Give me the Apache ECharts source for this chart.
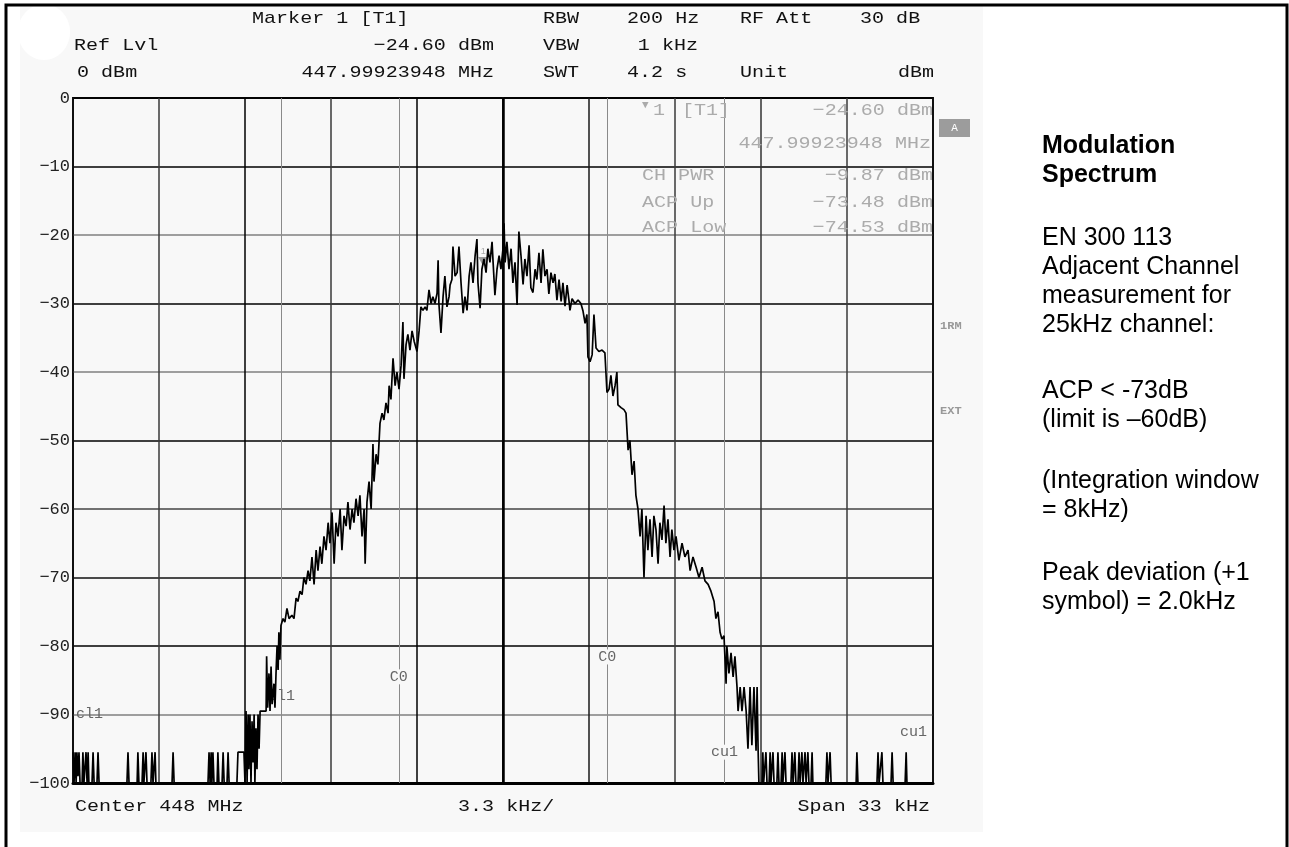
<!DOCTYPE html>
<html><head><meta charset="utf-8">
<script src="https://cdn.jsdelivr.net/npm/echarts@6/dist/echarts.min.js"></script>
<style>html,body{margin:0;padding:0;background:#fff}#c{width:1289px;height:847px}</style>
</head><body><div id="c"></div>
<script>
// ---- data (frequency offset from 448 MHz centre, kHz; level dBm) ----
const freqKHz = [
-16.50,-16.46,-16.42,-16.38,-16.35,-16.31,-16.27,-16.23,-16.15,-16.12,-16.08,-16.00,-15.96,-15.92,-15.89,-15.77,-15.73,-15.69,-15.58,-15.54,-15.50,
-14.43,-14.39,-14.35,-14.04,-14.01,-13.97,-13.85,-13.81,-13.78,-13.70,-13.66,-13.51,-13.47,-13.43,-13.35,-13.32,-12.70,-12.66,-12.62,
-11.32,-11.28,-11.24,-11.20,-11.17,-11.13,-11.09,-10.97,-10.94,-10.90,-10.78,-10.74,-10.70,-10.59,-10.55,-10.51,-10.21,-10.17,-9.94,-9.90,
-9.86,-9.82,-9.78,-9.75,-9.71,-9.67,-9.63,-9.59,-9.55,-9.52,-9.48,-9.44,-9.40,-9.36,-9.32,
-9.09,-9.07,-9.03,-8.98,-8.94,-8.90,-8.86,-8.79,-8.75,-8.71,-8.67,-8.63,-8.60,-8.56,-8.52,
-8.44,-8.37,-8.29,-8.21,-8.10,-8.02,-7.94,-7.87,-7.79,-7.71,
-7.64,-7.56,-7.48,-7.41,-7.33,-7.25,-7.17,-7.10,-7.02,-6.95,
-6.87,-6.79,-6.71,-6.64,-6.56,-6.48,-6.41,-6.33,-6.25,-6.18,
-6.10,-6.02,-5.95,-5.87,-5.79,-5.72,-5.64,-5.56,-5.49,-5.41,
-5.33,-5.29,-5.22,-5.14,-5.06,-4.99,-4.95,-4.87,-4.80,-4.72,
-4.64,-4.57,-4.49,-4.41,-4.37,-4.30,-4.22,-4.14,-4.07,-3.99,
-3.91,-3.84,-3.80,-3.72,-3.65,-3.57,-3.49,-3.41,-3.30,-3.22,
-3.15,-3.07,-2.99,-2.92,-2.84,-2.76,-2.69,-2.61,-2.53,-2.49,
-2.46,-2.38,-2.30,-2.23,-2.15,-2.07,-2.03,-1.96,-1.92,-1.84,
-1.76,-1.69,-1.61,-1.53,-1.46,-1.38,-1.30,-1.23,-1.15,-1.07,
-1.00,-0.96,-0.88,-0.81,-0.73,-0.65,-0.58,-0.50,-0.42,-0.38,
-0.31,-0.23,-0.15,-0.08,
0.00,0.04,0.08,0.15,0.23,0.31,0.38,0.46,0.54,0.61,
0.69,0.77,0.84,0.92,1.00,1.07,1.15,1.23,1.30,1.38,
1.46,1.53,1.61,1.69,1.76,1.84,1.92,1.99,2.07,2.15,
2.23,2.30,2.38,2.46,2.53,2.57,2.65,2.76,2.88,2.99,
3.07,3.15,3.22,3.26,3.34,3.42,3.49,3.57,3.68,3.80,
3.91,3.99,4.07,4.14,4.22,4.30,4.37,4.41,4.53,4.64,
4.72,4.80,4.87,4.95,5.03,5.10,5.18,5.26,5.33,5.41,
5.49,5.56,5.64,5.72,5.79,5.87,5.95,6.02,6.10,6.18,
6.25,6.33,6.41,6.48,6.56,6.64,6.75,6.87,6.98,7.10,
7.18,7.29,7.41,7.52,7.64,7.75,7.87,7.98,8.10,8.17,
8.25,8.33,8.40,8.48,8.56,8.59,8.67,8.75,8.83,8.90,
8.98,9.02,9.10,9.17,9.25,9.33,9.40,9.48,9.55,9.63,
9.71,9.75,9.79,9.82,
9.94,9.97,10.00,10.07,10.09,10.13,10.21,10.25,10.28,10.34,
10.36,10.40,10.51,10.55,10.59,10.67,10.71,10.74,10.80,10.82,
10.86,11.05,11.09,11.13,11.17,11.20,11.24,11.32,11.36,11.40,
11.45,11.47,11.51,11.57,11.59,11.63,11.68,11.70,11.74,11.82,
11.86,11.89,
12.39,12.43,12.47,12.51,12.55,12.59,13.55,13.58,13.62,14.35,14.39,14.43,14.50,14.54,14.58,14.89,14.93,14.97,15.43,15.47,15.50,16.50
];
const levelDbm = [
-95.5,-100,-95.5,-100,-95.5,-99,-95.5,-100,-100,-95.5,-100,-95.5,-100,-95.5,-100,-100,-95.5,-100,-100,-95.5,-100,
-100,-95.5,-100,-100,-95.5,-100,-100,-95.5,-100,-95.5,-100,-100,-95.5,-100,-95.5,-100,-100,-95.5,-100,
-100,-95.5,-100,-95.5,-100,-95.5,-100,-100,-95.5,-100,-100,-95.5,-100,-100,-95.5,-100,-100,-95.5,-95.5,-100,
-89.5,-100,-90,-98,-90,-100,-91,-97,-90,-100,-92,-98,-90,-95,-89.5,
-89.5,-81.5,-89,-84,-89.5,-83,-88.5,-85.5,-89,-84,-80,-83.5,-78,-82,-77,
-76,-76.5,-74.5,-76,-75.5,-76,-73,-73.5,-72,-72.5,
-70,-71,-69,-70.5,-67,-71,-66,-69,-65.5,-68,
-64,-66,-62,-65,-60.5,-68,-62,-64,-60,-66,
-61,-62.5,-59,-63,-60,-62,-58.5,-61,-58,-64,
-60,-68,-59,-56,-60,-50.5,-56,-52,-53.5,-47.5,
-46,-47,-44.5,-46,-42,-44,-38,-42,-40,-42.5,
-39,-32.7,-41,-36,-34.5,-36.8,-34,-35.5,-37,-34,
-30.5,-31,-30.5,-31,-28,-30,-29,-30,-28.5,-23.7,
-30,-34.3,-29,-26,-30.5,-29,-27.3,-26.5,-21.7,-26,
-25.5,-21.7,-27,-31.4,-29,-31,-26,-24,-27,-23,
-20.6,-27,-30.7,-25,-23.5,-25.5,-22,-24,-21,-24,
-28.8,-25,-23,-25,
-22,-18.3,-24,-21,-25,-22,-27,-24,-30.2,-19.5,
-23,-27.2,-23.5,-26,-21.5,-27.7,-28.4,-25,-26.5,-22.6,
-27,-22.1,-26,-25,-28.6,-25.5,-27,-25.7,-29.5,-26.5,
-29.7,-27,-30.4,-27.3,-29.5,-31,-29.3,-30,-29.5,-30,
-31.1,-32.9,-31.6,-37.8,-38.5,-37.5,-31.6,-36.5,-37,-36.8,
-37.2,-43,-42.5,-40.5,-43.5,-42,-40,-44.8,-45.2,-45.5,
-46,-51.4,-50,-55,-53,-58,-60,-64,-60,-70,
-61,-66,-61.5,-67,-61,-63,-68,-62,-64.5,-59.5,
-65,-61.5,-67,-63,-66,-64,-67.5,-65,-67,-66,
-69,-67,-68.5,-70,-68.5,-70.5,-71,-72,-73.5,-76,
-75,-78,-79,-78.5,-85.5,-80,-84,-81,-84.5,-81.5,
-86,-89.5,-86,-89.5,-86,-89.5,-95,-86,-94.5,-86,
-95.3,-86,-95.3,-100,
-100,-95.5,-100,-100,-95.5,-100,-100,-95.5,-100,-100,
-95.5,-100,-100,-95.5,-100,-100,-95.5,-100,-100,-95.5,
-100,-100,-95.5,-100,-100,-95.5,-100,-100,-95.5,-100,
-100,-95.5,-100,-100,-95.5,-100,-100,-95.5,-100,-100,
-95.5,-100,
-100,-95.5,-100,-100,-95.5,-100,-100,-95.5,-100,-100,-95.5,-100,-100,-95.5,-100,-100,-95.5,-100,-100,-95.5,-100,-100
];
const spanKHz = [-16.5, 16.5];
const divKHz = 3.3;
const levelRange = [-100, 0];
const markerFreqKHz = -0.7605;   // 447.99923948 MHz
const markerLevel = -24.60;
const channelNames = ['cl1', 'C0', 'C0', 'cu1'];
const channelFreqKHz = [-8.5, -4.0, 4.0, 8.5];
const channelLabelLevel = [-87.3, -84.5, -81.6, -95.5];
const limitNames = ['cl1', 'cu1'];
const limitLabelLevel = [-90, -92.6];

// ---- styling helpers ----
const MONO = "'Liberation Mono','DejaVu Sans Mono',monospace";
const SANS = "'Liberation Sans',Arial,sans-serif";
function txt(s, x, y, o) {
  o = o || {};
  return {type:'text', x:x, y:y, scaleX:(o.sx===undefined?1.18:o.sx), z:100,
    style:{text:s, fill:o.fill||'#111', font:(o.weight||'normal')+' '+(o.size||17)+'px '+(o.family||MONO),
      textAlign:o.align||'left', textVerticalAlign:'middle', align:o.align||'left', verticalAlign:'middle'}};
}
const GRAY = '#ababab';
const elements = [
  {type:'rect', z:-100, shape:{x:20,y:6,width:963,height:826}, style:{fill:'#f8f8f8'}},
  {type:'ellipse', z:-99, shape:{cx:44,cy:32,rx:26,ry:28}, style:{fill:'#ffffff'}},
  {type:'polyline', z:100, shape:{points:[[6,847],[6,5],[1287,5],[1287,847]]}, style:{stroke:'#000',lineWidth:3,fill:null}},
  // header
  txt('Marker 1 [T1]',252,18), txt('RBW',543,18), txt('200 Hz',627,18), txt('RF Att',740,18), txt('30 dB',860,18),
  txt('Ref Lvl',74,45), txt('\u221224.60 dBm',494,45,{align:'right'}), txt('VBW',543,45), txt('1 kHz',698,45,{align:'right'}),
  txt('0 dBm',77,72), txt('447.99923948 MHz',494,72,{align:'right'}), txt('SWT',543,72), txt('4.2 s',627,72), txt('Unit',740,72), txt('dBm',934,72,{align:'right'}),
  // footer
  txt('Center 448 MHz',75,806), txt('3.3 kHz/',458,806), txt('Span 33 kHz',930,806,{align:'right'}),
  // marker info overlay
  txt('\u25BC',642,105,{fill:GRAY,size:11,sx:1}), txt('1',653,110,{fill:GRAY}), txt('[T1]',682,110,{fill:GRAY}),
  txt('\u221224.60 dBm',933,110,{fill:GRAY,align:'right'}),
  txt('447.99923948 MHz',931,143,{fill:GRAY,align:'right'}),
  txt('CH PWR',642,175,{fill:GRAY}), txt('\u22129.87 dBm',933,175,{fill:GRAY,align:'right'}),
  txt('ACP Up',642,202,{fill:GRAY}), txt('\u221273.48 dBm',933,202,{fill:GRAY,align:'right'}),
  txt('ACP Low',642,227,{fill:GRAY}), txt('\u221274.53 dBm',933,227,{fill:GRAY,align:'right'}),
  // side indicators
  {type:'rect', z:100, shape:{x:939,y:119,width:31,height:18}, style:{fill:'#9c9c9c'}},
  txt('A',954.5,128,{fill:'#fff',size:11,sx:1,align:'center'}),
  txt('1RM',940,326,{fill:'#999',size:10,sx:1.2,weight:'bold'}),
  txt('EXT',940,411,{fill:'#999',size:10,sx:1.2,weight:'bold'}),
];
// right panel text
const sideTitle = [['Modulation',146],['Spectrum',175]];
const sideBody = [['EN 300 113',238],['Adjacent Channel',267],['measurement for',296],['25kHz channel:',325],
  ['ACP < -73dB',391],['(limit is \u201360dB)',420],['(Integration window',481],['= 8kHz)',510],
  ['Peak deviation (+1',573],['symbol) = 2.0kHz',602]];
sideTitle.forEach(function(t){ elements.push(txt(t[0],1042,t[1],{family:SANS,size:25,weight:'bold',fill:'#000',sx:1})); });
sideBody.forEach(function(t){ elements.push(txt(t[0],1042,t[1],{family:SANS,size:25,fill:'#000',sx:1})); });

const xGridColors = ['#111','#3a3a3a','#000','#3a3a3a','#000','#000','#1a1a1a','#3a3a3a','#333','#3a3a3a','#111'];
const yGridColors = ['#000','#808080','#000','#111','#444','#000','#808080','#000','#808080','#000','#000'];

const chart = echarts.init(document.getElementById('c'), null, {renderer:'canvas'});
chart.setOption({
  backgroundColor:'#ffffff',
  animation:false,
  graphic:{elements:elements},
  grid:{left:73, right:356, top:98, bottom:64, show:true, borderColor:'#111', borderWidth:2, backgroundColor:'transparent'},
  xAxis:{type:'value', min:spanKHz[0]*1000, max:spanKHz[1]*1000, interval:divKHz*1000,
    axisLabel:{show:false}, axisTick:{show:false},
    axisLine:{show:true, onZero:false, lineStyle:{color:'#000', width:3}},
    splitLine:{show:true, lineStyle:{color:xGridColors, width:1.5}}},
  yAxis:{type:'value', min:levelRange[0], max:levelRange[1], interval:10,
    axisLabel:{fontFamily:MONO, fontSize:17, color:'#222', margin:3, formatter:function(v){return String(v).replace('-','\u2212');}},
    axisTick:{show:false},
    axisLine:{show:true, lineStyle:{color:'#111', width:2}},
    splitLine:{show:true, lineStyle:{color:yGridColors, width:1.5}}},
  series:[
    {type:'line', name:'centre', data:[], silent:true, z:2,
      markLine:{silent:true, symbol:['none','none'], label:{show:false},
        lineStyle:{color:'#000', width:2.5, type:'solid'}, data:[{xAxis:0}]}},
    {type:'line', name:'channels', data:[], silent:true, z:3,
      markLine:{silent:true, symbol:['none','none'], label:{show:false},
        lineStyle:{color:'#8a8a8a', width:1, type:'solid'},
        data:channelFreqKHz.map(function(f){return {xAxis:f*1000};})}},
    {type:'line', name:'trace', z:5, silent:true, symbol:'none', showSymbol:false,
      data:freqKHz.map(function(f,i){return [f*1000, levelDbm[i]];}),
      lineStyle:{color:'#000', width:1.7},
      markPoint:{silent:true, symbol:'triangle', symbolRotate:180, symbolSize:[10,9], symbolOffset:[0,-5],
        itemStyle:{color:'#9a9a9a'},
        label:{show:true, position:'top', formatter:'1', color:'#aaa', fontSize:9, distance:1},
        data:[{coord:[markerFreqKHz*1000, markerLevel]}]}},
    {type:'line', name:'labels', data:[], silent:true, z:6,
      markPoint:{silent:true, symbol:'circle', symbolSize:0,
        label:{show:true, position:'inside', formatter:function(p){return p.name;}, color:'#666',
          fontFamily:MONO, fontSize:15},
        data:channelNames.map(function(n,i){return {name:n, coord:[channelFreqKHz[i]*1000, channelLabelLevel[i]],
            label:{backgroundColor: i===0 ? 'transparent' : '#f8f8f8', padding:[0,1]}};})
          .concat([
            {name:limitNames[0], coord:[spanKHz[0]*1000, limitLabelLevel[0]], label:{align:'left', offset:[3,0]}},
            {name:limitNames[1], coord:[spanKHz[1]*1000, limitLabelLevel[1]], label:{align:'right', offset:[-6,0]}}
          ])}}
  ]
});
</script></body></html>
